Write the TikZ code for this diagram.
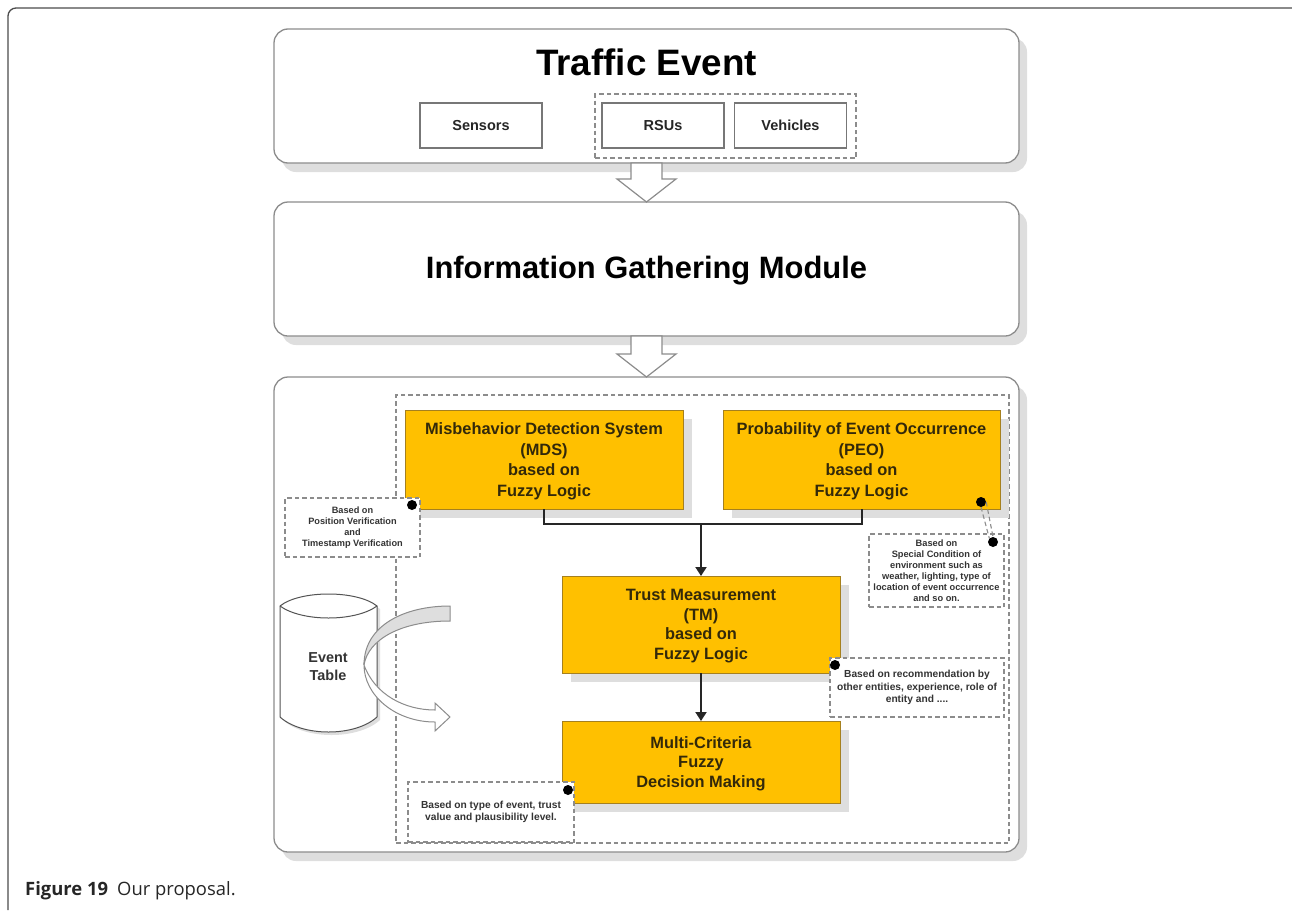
\documentclass[tikz,border=0pt]{standalone}
\usepackage{fontspec}
\usepackage{tikz}
\usetikzlibrary{shadows,arrows.meta}
\setmainfont{Liberation Sans}
\newfontfamily\capfont{Open Sans}

\newcommand{\fsize}[2]{\fontsize{#1}{#2}\selectfont\bfseries}

\definecolor{boxgray}{HTML}{8C8C8C}
\definecolor{shadegray}{HTML}{DEDEDE}
\definecolor{fuzzyfill}{HTML}{FFC000}
\definecolor{fuzzyedge}{HTML}{A5801F}
\definecolor{fuzzytext}{HTML}{33290A}
\definecolor{notetext}{HTML}{333333}

\begin{document}

\begin{tikzpicture}[x=1pt,y=-1pt,
    outerbox/.style={draw=boxgray,line width=1.3,fill=white,rounded corners=14,
      inner sep=0,outer sep=0,minimum width=745,minimum height=134,
      drop shadow={shadow xshift=8,shadow yshift=9,fill=shadegray,opacity=1}},
    sourcebox/.style={draw=boxgray!85!black,line width=1.2,fill=white,inner sep=0,outer sep=0,
      minimum height=45,font=\fsize{14.5}{17},text=black!85},
    groupbox/.style={draw=boxgray,line width=1.1,dash pattern=on 4.5 off 3,inner sep=0,outer sep=0},
    fuzzybox/.style={draw=fuzzyedge,line width=1,fill=fuzzyfill,inner sep=0,outer sep=0,
      align=center,text=fuzzytext,text depth=0,font=\fsize{16.4}{20.5},
      drop shadow={shadow xshift=9,shadow yshift=9,fill=shadegray,opacity=1}},
    notebox/.style={draw=boxgray,line width=1.1,dash pattern=on 4.5 off 3,fill=white,
      inner sep=0,outer sep=0,align=center,text=notetext},
    notedot/.style={circle,fill=black,inner sep=0,minimum size=10},
    blockarrow/.style={draw=boxgray,line width=1.2,fill=white,line join=miter},
    link/.style={draw=black!85,line width=2},
    linkarrow/.style={link,-{Triangle[length=9,width=11]}}]

    \useasboundingbox (0,0) rectangle (1292,910);

    \draw[draw=black!70,line width=1.3,rounded corners=8]
    (8,910) -- (8,8) -- (1298,8);

    \node[anchor=base west,inner sep=0,font=\capfont\fontsize{18.4}{20}\selectfont,text=black!85]
    (caption) at (25,895) {\textbf{Figure 19}\hspace{0.5em}Our proposal.};



    \node[outerbox] (traffic) at (646.5,96) {};

    \node[anchor=base,inner sep=0,font=\fsize{36.8}{40}] (traffictitle) at (646.5,75) {Traffic Event};

    \node[groupbox,minimum width=261,minimum height=64] (networkgroup) at (725.5,126) {};

    \node[sourcebox,minimum width=122] (sensors) at (481,125.5) {Sensors};

    \node[sourcebox,minimum width=122] (rsus) at (663,125.5) {RSUs};

    \node[sourcebox,minimum width=111.5] (vehicles) at (790.5,125.5) {Vehicles};



    \node[outerbox] (gathering) at (646.5,269) {};

    \node[anchor=base,inner sep=0,font=\fsize{30.9}{34}] (gatheringtitle) at (646.5,278) {Information Gathering Module};

    \node[outerbox,minimum height=475] (decision) at (646.5,614.5) {};

    \draw[blockarrow] (traffic.south) ++(-15.5,0) -- ++(0,16) -- ++(-14,0)
    -- (gathering.north) -- ++(29.5,-23) -- ++(-14,0) -- ++(0,-16) -- cycle;

    \draw[blockarrow] (gathering.south) ++(-15.5,0) -- ++(0,18) -- ++(-14,0)
    -- (decision.north) -- ++(29.5,-23) -- ++(-14,0) -- ++(0,-18) -- cycle;



    \node[groupbox,minimum width=613,minimum height=448] (fuzzygroup) at (702.5,619) {};

    \node[fuzzybox,minimum width=278,minimum height=99] (mds) at (544,459.5)
    {Misbehavior Detection System\\ (MDS)\\ based on\\ Fuzzy Logic};

    \node[fuzzybox,minimum width=277,minimum height=99] (peo) at (861.5,459.5)
    {Probability of Event Occurrence\\ (PEO)\\ based on\\ Fuzzy Logic};

    \node[fuzzybox,minimum width=278,minimum height=97,font=\fsize{16.4}{19.5}] (tm) at (701,624.5)
    {Trust Measurement\\ (TM)\\ based on\\ Fuzzy Logic};

    \node[fuzzybox,minimum width=278,minimum height=82,font=\fsize{16.4}{19.5}] (mcdm) at (701,762)
    {Multi-Criteria\\ Fuzzy\\ Decision Making};

    \coordinate (join) at (701,524);

    \draw[link] (mds.south) |- (join) -| (peo.south);

    \draw[linkarrow] (join) -- (tm.north);

    \draw[linkarrow] (tm.south) -- (mcdm.north);



    \node[notebox,minimum width=135,minimum height=59,font=\fsize{9.2}{11}] (mdsnote) at (352.5,527.5)
    {Based on\\ Position Verification\\ and\\ Timestamp Verification};

    \node[notebox,minimum width=135,minimum height=73,font=\fsize{9.26}{11}] (peonote) at (936.5,570.5)
    {Based on\\ Special Condition of\\ environment such as\\ weather, lighting, type of\\ location of event occurrence\\ and so on.};

    \node[notebox,minimum width=174,minimum height=59,font=\fsize{10.2}{12.5}] (tmnote) at (917,687.5)
    {Based on recommendation by\\ other entities, experience, role of\\ entity and ....};

    \node[notebox,minimum width=166,minimum height=60,font=\fsize{10.2}{12.5}] (mcdmnote) at (491,812)
    {Based on type of event, trust\\ value and plausibility level.};

    \node[notedot] (mdsdot) at (412,505) {};

    \node[notedot] (peodot) at (981,502) {};

    \node[notedot] (peonotedot) at (993,542) {};

    \node[notedot] (tmdot) at (835,665) {};

    \node[notedot] (mcdmdot) at (568,790) {};

    \draw[groupbox] (peodot.south) -- (peonotedot.north west);

    \draw[groupbox] (peodot.east) -- (peonotedot.north);



    \draw[draw=boxgray!60!black,line width=1,fill=white,
      drop shadow={shadow xshift=3,shadow yshift=3,fill=shadegray,opacity=1}]
    (280,606) .. controls (300,590) and (357,590) .. (377,606)
    -- (377,717) .. controls (355,737) and (302,737) .. (280,717) -- cycle;

    \draw[draw=boxgray!60!black,line width=1]
    (280,606) .. controls (302,622) and (355,622) .. (377,606);

    \node[inner sep=0,align=center,font=\fsize{14.4}{18},text=notetext] (eventtable) at (328,667)
    {Event\\ Table};

    \draw[draw=boxgray,line width=1,fill=shadegray]
    (450,606) .. controls (405,606) and (364,625) .. (364,665)
    .. controls (368,640) and (400,621) .. (450,621) -- cycle;

    \draw[draw=boxgray,line width=1,fill=white]
    (364,665) .. controls (364,695) and (395,722) .. (435,722)
    -- (435,731) -- (450,717) -- (435,703) -- (435,710)
    .. controls (405,710) and (375,695) .. (364,665) -- cycle;

  \end{tikzpicture}

\end{document}
